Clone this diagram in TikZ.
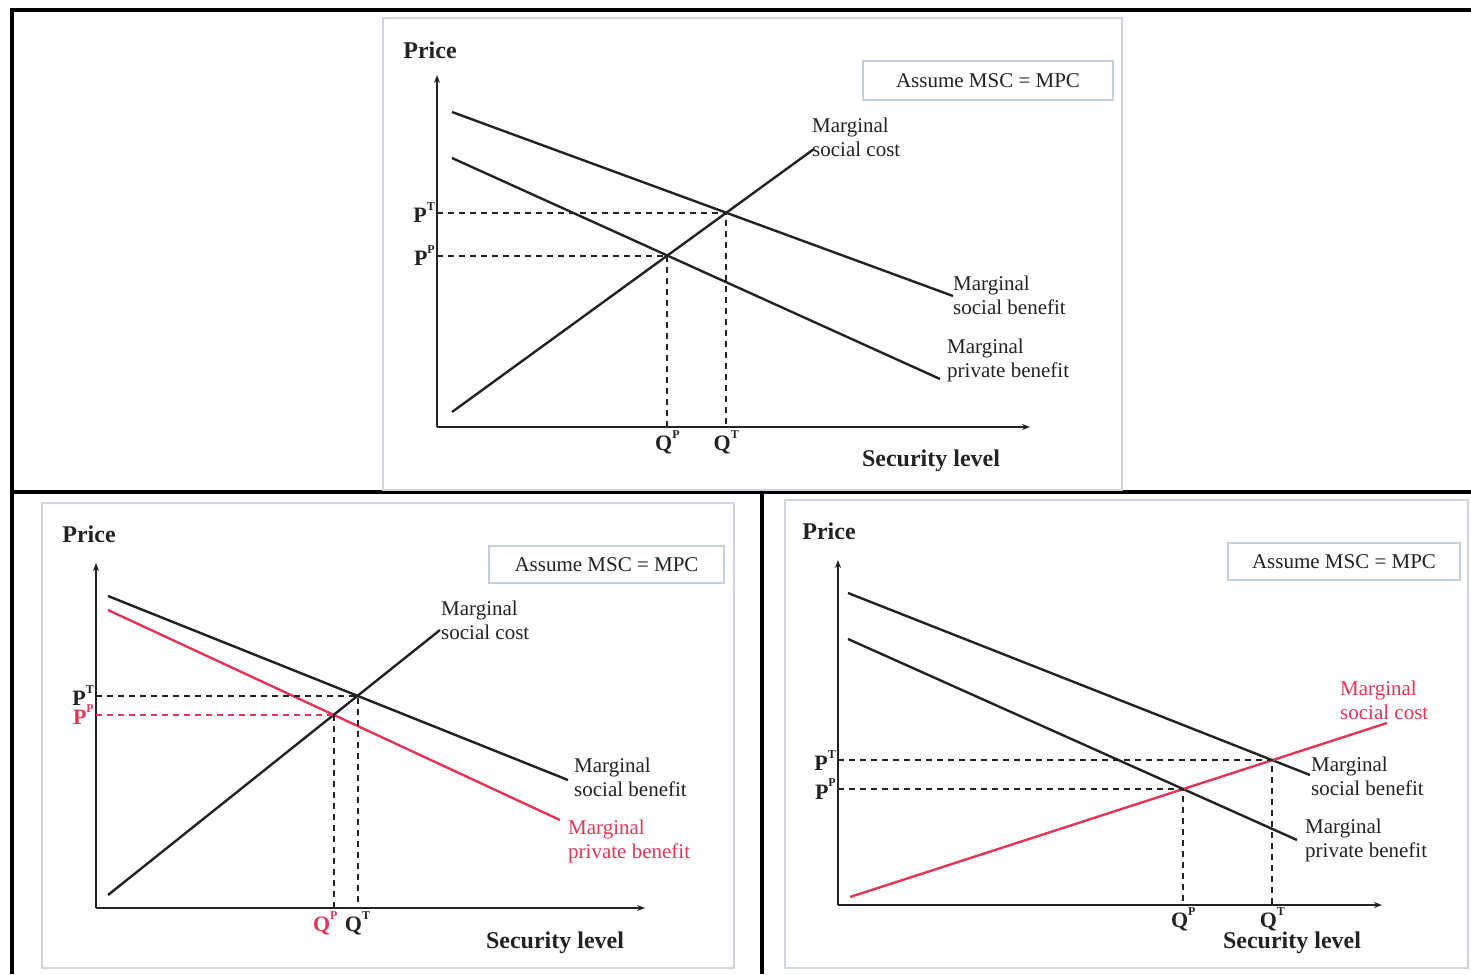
\documentclass[tikz,border=0pt]{standalone}
\usepackage{fontspec}
\setmainfont{Liberation Serif}
\usetikzlibrary{arrows.meta}
\definecolor{pinkred}{RGB}{228,52,88}
\definecolor{framegray}{RGB}{208,212,220}
\definecolor{boxgray}{RGB}{198,206,222}
\definecolor{ink}{RGB}{35,35,35}
\newcommand{\supr}[1]{\raisebox{0.55em}{\fontsize{12}{12}\selectfont #1}}
\begin{document}
\begin{tikzpicture}[x=1pt,y=-1pt,
  curve/.style={line width=2.4pt, draw=ink},
  redcurve/.style={line width=2.4pt, draw=pinkred},
  guide/.style={line width=2pt, draw=ink, dash pattern=on 6pt off 5pt},
  redguide/.style={guide, draw=pinkred},
  axis/.style={line width=2.4pt, draw=ink, -{Stealth[length=8pt,width=6pt]}},
  lbl/.style={font=\fontsize{21}{24}\selectfont, align=left, inner sep=0pt, text=ink, anchor=west},
  redlbl/.style={lbl, text=pinkred},
  boldlbl/.style={font=\fontsize{24}{26}\selectfont\bfseries, inner sep=0pt, text=ink},
  sym/.style={font=\fontsize{22}{24}\selectfont\bfseries, inner sep=0pt, text=ink},
  redsym/.style={sym, text=pinkred},
  panel/.style={draw=framegray, line width=2.5pt},
  note/.style={draw=boxgray, line width=2pt, font=\fontsize{21}{24}\selectfont, text=ink, inner sep=0pt}]
\useasboundingbox (0,0) rectangle (1471,974);
\fill[white] (0,0) rectangle (1471,974);
% outer black frame
\draw[line width=3.5pt] (1471,10) -- (12,10) -- (12,974);
\draw[line width=3.5pt] (12,492) -- (1471,492);
\draw[line width=3.5pt] (762,492) -- (762,974);

% ================= top panel =================
\draw[panel] (383,18) rectangle (1122,490);
\coordinate (aO) at (437,427);
\coordinate (aYt) at (437,75);
\coordinate (aXe) at (1030,427);
\draw[axis] (aO) -- (aYt);
\draw[axis] (aO) -- (aXe);
\node[boldlbl] (aPrice) at (430,50) {Price};
\node[boldlbl] (aSec) at (931,461) {Security level};
\node[note, minimum width=250pt, minimum height=39pt] (aNote) at (988,80.5) {Assume MSC = MPC};
\coordinate (aMSBs) at (452,112); \coordinate (aMSBe) at (953,296);
\coordinate (aMPBs) at (452,158); \coordinate (aMPBe) at (940,379);
\coordinate (aMSCs) at (452,412); \coordinate (aMSCe) at (814,149);
\draw[curve] (aMSBs) -- (aMSBe);
\draw[curve] (aMPBs) -- (aMPBe);
\draw[curve] (aMSCs) -- (aMSCe);
\coordinate (aT) at (intersection of aMSBs--aMSBe and aMSCs--aMSCe);
\coordinate (aP) at (intersection of aMPBs--aMPBe and aMSCs--aMSCe);
\draw[guide] (aO |- aT) -- (aT) -- (aT |- aO);
\draw[guide] (aO |- aP) -- (aP) -- (aP |- aO);
\path (aO |- aT) node[sym, anchor=east, xshift=-2pt] (aPT) {P\supr{T}};
\path (aO |- aP) node[sym, anchor=east, xshift=-2pt] (aPP) {P\supr{P}};
\path (aP |- aO) node[sym, anchor=north, yshift=-3pt] (aQP) {Q\supr{P}};
\path (aT |- aO) node[sym, anchor=north, yshift=-3pt] (aQT) {Q\supr{T}};
\node[lbl] (aMSCl) at (812,137) {Marginal\\social cost};
\node[lbl] (aMSBl) at (953,295) {Marginal\\social benefit};
\node[lbl] (aMPBl) at (947,360) {Marginal\\private benefit};

% ================= bottom-left panel =================
\draw[panel] (42,503) rectangle (734,968);
\coordinate (bO) at (96,908);
\coordinate (bYt) at (96,563);
\coordinate (bXe) at (645,908);
\draw[axis] (bO) -- (bYt);
\draw[axis] (bO) -- (bXe);
\node[boldlbl] (bPrice) at (89,534) {Price};
\node[boldlbl] (bSec) at (555,943) {Security level};
\node[note, minimum width=235pt, minimum height=37pt] (bNote) at (606.5,564.5) {Assume MSC = MPC};
\coordinate (bMSBs) at (108,596); \coordinate (bMSBe) at (568,780);
\coordinate (bMPBs) at (108,610); \coordinate (bMPBe) at (560,820);
\coordinate (bMSCs) at (108,895); \coordinate (bMSCe) at (440,630);
\draw[curve] (bMSBs) -- (bMSBe);
\draw[redcurve] (bMPBs) -- (bMPBe);
\draw[curve] (bMSCs) -- (bMSCe);
\coordinate (bT) at (intersection of bMSBs--bMSBe and bMSCs--bMSCe);
\coordinate (bP) at (intersection of bMPBs--bMPBe and bMSCs--bMSCe);
\draw[guide] (bO |- bT) -- (bT) -- (bT |- bO);
\draw[redguide] (bO |- bP) -- (bP);
\draw[guide] (bP) -- (bP |- bO);
\path (bO |- bT) node[sym, anchor=east, xshift=-2pt] (bPT) {P\supr{T}};
\path (bO |- bP) node[redsym, anchor=east, xshift=-2pt] (bPP) {P\supr{P}};
\path (bP |- bO) node[redsym, anchor=north east, yshift=-3pt, xshift=4pt] (bQP) {Q\supr{P}};
\path (bT |- bO) node[sym, anchor=north, yshift=-3pt] (bQT) {Q\supr{T}};
\node[lbl] (bMSCl) at (441,620) {Marginal\\social cost};
\node[lbl] (bMSBl) at (574,777) {Marginal\\social benefit};
\node[redlbl] (bMPBl) at (568,841) {Marginal\\private benefit};

% ================= bottom-right panel =================
\draw[panel] (785,500) rectangle (1468,968);
\coordinate (cO) at (838,905);
\coordinate (cYt) at (838,560);
\coordinate (cXe) at (1382,905);
\draw[axis] (cO) -- (cYt);
\draw[axis] (cO) -- (cXe);
\node[boldlbl] (cPrice) at (829,531) {Price};
\node[boldlbl] (cSec) at (1292,943) {Security level};
\node[note, minimum width=232pt, minimum height=37pt] (cNote) at (1344,561.5) {Assume MSC = MPC};
\coordinate (cMSBs) at (848,593); \coordinate (cMSBe) at (1310,775);
\coordinate (cMPBs) at (848,639); \coordinate (cMPBe) at (1297,840);
\coordinate (cMSCs) at (850,897); \coordinate (cMSCe) at (1387,723);
\draw[curve] (cMSBs) -- (cMSBe);
\draw[curve] (cMPBs) -- (cMPBe);
\draw[redcurve] (cMSCs) -- (cMSCe);
\coordinate (cT) at (intersection of cMSBs--cMSBe and cMSCs--cMSCe);
\coordinate (cP) at (intersection of cMPBs--cMPBe and cMSCs--cMSCe);
\draw[guide] (cO |- cT) -- (cT) -- (cT |- cO);
\draw[guide] (cO |- cP) -- (cP) -- (cP |- cO);
\path (cO |- cT) node[sym, anchor=east, xshift=-2pt] (cPT) {P\supr{T}};
\path (cO |- cP) node[sym, anchor=east, xshift=-2pt] (cPP) {P\supr{P}};
\path (cP |- cO) node[sym, anchor=north, yshift=-2pt] (cQP) {Q\supr{P}};
\path (cT |- cO) node[sym, anchor=north, yshift=-2pt] (cQT) {Q\supr{T}};
\node[redlbl] (cMSCl) at (1340,700) {Marginal\\social cost};
\node[lbl] (cMSBl) at (1311,776) {Marginal\\social benefit};
\node[lbl] (cMPBl) at (1305,840) {Marginal\\private benefit};
\end{tikzpicture}
\end{document}
